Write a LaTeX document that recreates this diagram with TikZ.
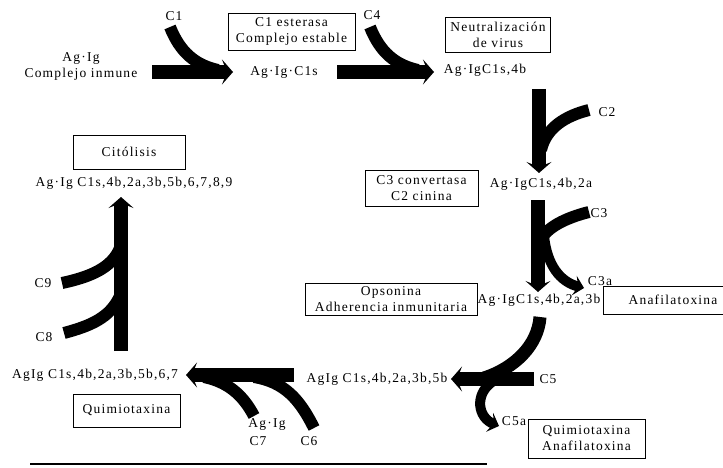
\documentclass[tikz,border=0pt]{standalone}
\usepackage{fontspec}
\setmainfont[LetterSpace=9]{Liberation Serif}
\usetikzlibrary{arrows.meta}
\begin{document}
\begin{tikzpicture}[x=1pt,y=-1pt,
  txt/.style={font=\fontsize{13.5}{16}\selectfont, inner sep=0pt, align=center},
  box/.style={draw, line width=0.9pt, align=center, font=\fontsize{13.5}{16}\selectfont, inner sep=0pt},
  bar/.style={line width=14pt, -{Stealth[length=11pt,width=25pt,inset=5pt]}},
  branch/.style={line width=10pt, -{Stealth[length=10pt,width=20pt,inset=4pt]}},
  arm/.style={line width=12pt}]
\clip (0,0) rectangle (723,468);
\fill[white] (0,0) rectangle (723,468);

% ---------- texts ----------
\node[txt] (c1) at (174,16) {C1};
\node[txt] (agig0) at (81,66) {Ag·Ig\\Complejo inmune};
\node[box, minimum width=127pt, minimum height=37pt] (b1) at (291.5,31.5) {C1 esterasa\\Complejo estable};
\node[txt] (c4) at (372,15) {C4};
\node[txt] (t1) at (284,72) {Ag·Ig·C1s};
\node[box, minimum width=105pt, minimum height=35pt] (b2) at (498,34.5) {Neutralización\\de virus};
\node[txt] (t2) at (485,70) {Ag·IgC1s,4b};
\node[txt] (c2) at (607,112) {C2};
\node[box, minimum width=113pt, minimum height=36pt] (b3) at (421.5,188) {C3 convertasa\\C2 cinina};
\node[txt] (t3) at (541,184) {Ag·IgC1s,4b,2a};
\node[txt] (c3) at (599,213) {C3};
\node[txt] (c3a) at (600,281) {C3a};
\node[box, minimum width=172pt, minimum height=32pt] (b4) at (391,299) {Opsonina\\Adherencia inmunitaria};
\node[txt] (t4) at (539,300) {Ag·IgC1s,4b,2a,3b};
\node[box, minimum width=140pt, minimum height=28pt] (b5) at (673,300) {Anafilatoxina};
\node[txt] (c5) at (548,379) {C5};
\node[txt] (t5) at (377,379) {AgIg C1s,4b,2a,3b,5b};
\node[txt] (c5a) at (514,421) {C5a};
\node[box, minimum width=117pt, minimum height=39pt] (b6) at (586.5,438.5) {Quimiotaxina\\Anafilatoxina};
\node[txt] (agig7) at (267,424) {Ag·Ig};
\node[txt] (c7) at (258,441) {C7};
\node[txt] (c6) at (309,441) {C6};
\node[txt] (t6) at (95,375) {AgIg C1s,4b,2a,3b,5b,6,7};
\node[box, minimum width=107pt, minimum height=33pt] (b7) at (126.5,410.5) {Quimiotaxina};
\node[txt] (c8) at (44,337) {C8};
\node[txt] (c9) at (43,283) {C9};
\node[box, minimum width=112pt, minimum height=34pt] (b8) at (129,152) {Citólisis};
\node[txt] (t7) at (134,183) {Ag·Ig C1s,4b,2a,3b,5b,6,7,8,9};

% ---------- connector end points ----------
\coordinate (a1s) at (152,72);  \coordinate (a1e) at (233,72);
\coordinate (k1s) at (170,27);  \coordinate (k1e) at (218,70);
\coordinate (a2s) at (337,72);  \coordinate (a2e) at (434,72);
\coordinate (k2s) at (370,27);  \coordinate (k2e) at (418,70);
\coordinate (a3s) at (539,89);  \coordinate (a3e) at (539,173);
\coordinate (k3s) at (589,110); \coordinate (k3e) at (541,150);
\coordinate (a4s) at (538,200); \coordinate (a4e) at (538,292);
\coordinate (k4s) at (589,212); \coordinate (k4e) at (541,240);
\coordinate (r4s) at (544,236); \coordinate (r4e) at (584,288);
\coordinate (k5s) at (540,317); \coordinate (k5e) at (484,378);
\coordinate (a5s) at (534,379); \coordinate (a5e) at (451,379);
\coordinate (r5s) at (492,382); \coordinate (r5e) at (499,426);
\coordinate (a6s) at (294,375); \coordinate (a6e) at (186,375);
\coordinate (k6s) at (314,428); \coordinate (k6e) at (254,377);
\coordinate (k7s) at (254,416); \coordinate (k7e) at (204,377);
\coordinate (a7s) at (121,351); \coordinate (a7e) at (121,197);
\coordinate (k9s) at (62,283);  \coordinate (k9e) at (120,248);
\coordinate (k8s) at (64,333);  \coordinate (k8e) at (120,296);
\coordinate (ls) at (30,464);   \coordinate (le) at (487,464);

% ---------- arms and arrows ----------
\draw[arm] (k1s) .. controls (180,52) and (195,65) .. (k1e);
\draw[bar] (a1s) -- (a1e);
\draw[arm] (k2s) .. controls (380,52) and (395,65) .. (k2e);
\draw[bar] (a2s) -- (a2e);
\draw[arm] (k3s) .. controls (565,116) and (546,128) .. (k3e);
\draw[bar] (a3s) -- (a3e);
\draw[arm] (k4s) .. controls (565,218) and (546,228) .. (k4e);
\draw[branch] (r4s) .. controls (547,265) and (560,282) .. (r4e);
\draw[bar] (a4s) -- (a4e);
\draw[arm, line width=13pt] (k5s) .. controls (538,345) and (515,368) .. (k5e);
\draw[branch] (r5s) .. controls (474,395) and (478,418) .. (r5e);
\draw[bar] (a5s) -- (a5e);
\draw[arm] (k6s) .. controls (300,400) and (285,382) .. (k6e);
\draw[arm] (k7s) .. controls (243,395) and (228,382) .. (k7e);
\draw[bar] (a6s) -- (a6e);
\draw[arm] (k9s) .. controls (90,277) and (112,268) .. (k9e);
\draw[arm] (k8s) .. controls (90,326) and (110,318) .. (k8e);
\draw[bar] (a7s) -- (a7e);
\draw[line width=1.5pt] (ls) -- (le);
\end{tikzpicture}
\end{document}
